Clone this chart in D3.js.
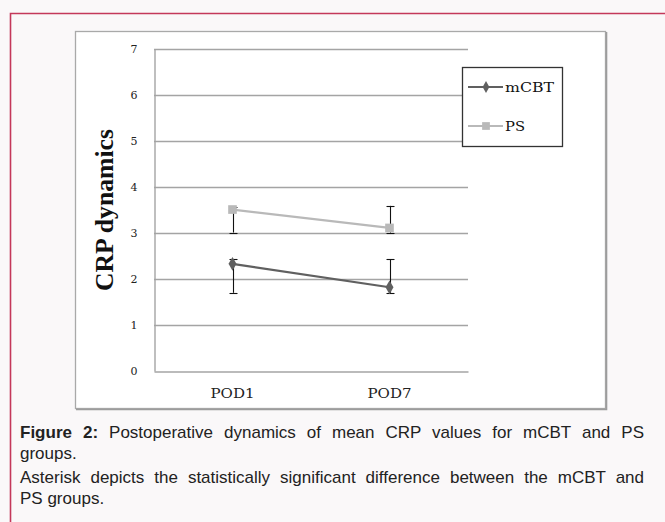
<!DOCTYPE html>
<html><head><meta charset="utf-8">
<script src="https://cdn.jsdelivr.net/npm/d3@7"></script>
<style>
html,body{margin:0;padding:0;background:#faf8f9;}
svg{display:block;}
</style></head>
<body>
<svg id="chart" width="665" height="522"></svg>
<script>
const categories = ["POD1", "POD7"];
const seriesNames = ["mCBT", "PS"];
const mcbtValues = [2.33, 1.82];
const mcbtErrLow = [1.70, 1.70];
const mcbtErrHigh = [2.43, 2.43];
const psValues = [3.51, 3.11];
const psErrLow = [3.01, 3.01];
const psErrHigh = [3.56, 3.59];
const yTicks = [0, 1, 2, 3, 4, 5, 6, 7];
const yTitle = "CRP dynamics";
const captionBold = "Figure 2:";
const captionLines = [
  " Postoperative dynamics of mean CRP values for mCBT and PS",
  "groups.",
  "Asterisk depicts the statistically significant difference between the mCBT and",
  "PS groups."
];

const svg = d3.select("#chart");

// outer page frame
svg.append("rect").attr("x",0).attr("y",0).attr("width",665).attr("height",522).attr("fill","#faf8f9");
svg.append("path").attr("d","M10.5,540 V13.5 H680").attr("fill","none").attr("stroke","#c4385a").attr("stroke-width",1.6);

// chart box
svg.append("rect").attr("x",75.5).attr("y",31.5).attr("width",530).attr("height",377)
  .attr("fill","#ffffff").attr("stroke","#a9a9a9").attr("stroke-width",1.3);
svg.append("path").attr("d","M76,409.5 H606.5 V32").attr("fill","none").attr("stroke","#9c9c9c").attr("stroke-width",1.6);

const plotL = 154, plotR = 468, plotT = 49, plotB = 371;
const x = d3.scaleBand().domain(categories).range([plotL, plotR]).padding(0);
const y = d3.scaleLinear().domain([0, 7]).range([plotB, plotT]);
const cx = c => x(c) + x.bandwidth()/2;

// gridlines
svg.append("g").selectAll("line").data(yTicks.filter(t => t > 0)).join("line")
  .attr("x1", plotL).attr("x2", plotR)
  .attr("y1", d => Math.round(y(d)) + 0.5).attr("y2", d => Math.round(y(d)) + 0.5)
  .attr("stroke", "#a4a4a4").attr("stroke-width", 1.4);

// y axis
const yAxis = svg.append("g").attr("transform", `translate(${plotL + 0.5},0)`)
  .call(d3.axisLeft(y).tickValues(yTicks).tickSize(0).tickPadding(17).tickFormat(d3.format("d")));
yAxis.select(".domain").attr("stroke", "#a4a4a4").attr("stroke-width", 1.4);
yAxis.selectAll("text").attr("font-family", "DejaVu Serif").attr("font-size", 11).attr("fill", "#222");

// x axis
const xAxis = svg.append("g").attr("transform", `translate(0,${plotB + 0.5})`)
  .call(d3.axisBottom(x).tickSize(0).tickPadding(18));
xAxis.select(".domain").attr("stroke", "#a4a4a4").attr("stroke-width", 1.4);
xAxis.selectAll("text").attr("font-family", "DejaVu Serif").attr("font-size", 12).attr("fill", "#222")
  .attr("textLength", 44).attr("lengthAdjust", "spacingAndGlyphs");

// y title
svg.append("text").attr("transform", `translate(113,${(plotT + plotB)/2}) rotate(-90)`)
  .attr("text-anchor", "middle").attr("font-family", "Liberation Serif").attr("font-size", 25).attr("font-weight", "bold")
  .attr("fill", "#111").attr("textLength", 162).attr("lengthAdjust", "spacingAndGlyphs").text(yTitle);

const series = [
  {name: seriesNames[0], values: mcbtValues, lo: mcbtErrLow, hi: mcbtErrHigh, color: "#606060", marker: "diamond"},
  {name: seriesNames[1], values: psValues, lo: psErrLow, hi: psErrHigh, color: "#b9b9b9", marker: "square"}
];

const line = d3.line().x((d, i) => cx(categories[i])).y(d => y(d));
series.forEach(s => {
  const g = svg.append("g");
  g.append("path").attr("d", line(s.values)).attr("fill", "none").attr("stroke", s.color).attr("stroke-width", 2.2);
  categories.forEach((c, i) => {
    const xx = Math.round(cx(c)) + 0.5;
    g.append("line").attr("x1", xx).attr("x2", xx).attr("y1", y(s.lo[i])).attr("y2", y(s.hi[i])).attr("stroke", "#111").attr("stroke-width", 1.1);
    [s.lo[i], s.hi[i]].forEach(v => {
      g.append("line").attr("x1", xx - 4).attr("x2", xx + 4).attr("y1", Math.round(y(v)) + 0.5).attr("y2", Math.round(y(v)) + 0.5).attr("stroke", "#111").attr("stroke-width", 1.1);
    });
  });
  const sym = s.marker === "diamond" ? d3.symbolDiamond : d3.symbolSquare;
  const size = s.marker === "diamond" ? 55 : 75;
  g.selectAll(".m").data(s.values).join("path")
    .attr("transform", (d, i) => `translate(${cx(categories[i])},${y(d)})`)
    .attr("d", d3.symbol().type(sym).size(size)).attr("fill", s.color);
});

// legend
svg.append("rect").attr("x", 462.5).attr("y", 67.5).attr("width", 100).attr("height", 79)
  .attr("fill", "#fff").attr("stroke", "#333").attr("stroke-width", 1.3);
series.forEach((s, i) => {
  const ly = 87 + i * 39;
  svg.append("line").attr("x1", 468).attr("x2", 503).attr("y1", ly).attr("y2", ly).attr("stroke", s.color).attr("stroke-width", 2);
  const sym = s.marker === "diamond" ? d3.symbolDiamond : d3.symbolSquare;
  svg.append("path").attr("transform", `translate(486,${ly})`).attr("d", d3.symbol().type(sym).size(s.marker === "diamond" ? 40 : 60)).attr("fill", s.color);
  svg.append("text").attr("x", 505).attr("y", ly + 4.5).attr("font-family", "DejaVu Serif").attr("font-size", 12).attr("fill", "#111")
    .attr("textLength", s.name.length === 4 ? 49 : 20).attr("lengthAdjust", "spacingAndGlyphs").text(s.name);
});

// caption (lines 1 and 3 justified to the same right edge)
const cap = svg.append("g").attr("font-family", "Liberation Sans, Arial, sans-serif").attr("font-size", 17).attr("fill", "#222");
const lineYs = [438, 459, 483, 504];
const justify = [true, false, true, false];
captionLines.forEach((t, i) => {
  const tx = cap.append("text").attr("x", 20).attr("y", lineYs[i]);
  if (i === 0) tx.append("tspan").attr("font-weight", "bold").text(captionBold);
  tx.append("tspan").text(t);
  if (justify[i]) {
    const w = tx.node().getComputedTextLength();
    const full = (i === 0 ? captionBold : "") + t;
    const spaces = (full.match(/ /g) || []).length;
    const target = 624;
    if (spaces > 0 && w < target) tx.attr("word-spacing", (target - w) / spaces);
  }
});
</script>
</body></html>
